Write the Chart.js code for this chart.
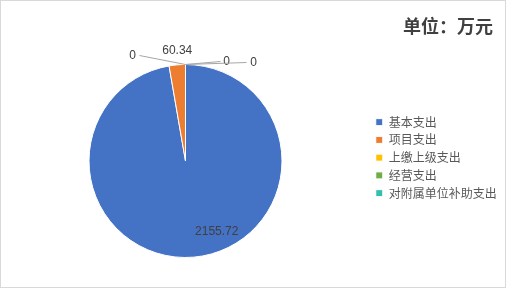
<!DOCTYPE html>
<html>
<head>
<meta charset="utf-8">
<script src="https://cdn.jsdelivr.net/npm/chart.js@4"></script>
<style>
  body { margin: 0; background: #fff; }
  #box { position: absolute; left: 0; top: 0; width: 504px; height: 286px; border: 1px solid #d9d9d9; }
</style>
</head>
<body>
<div id="box"><canvas id="pie-chart"></canvas></div>
<script>
const categories = ["基本支出", "项目支出", "上缴上级支出", "经营支出", "对附属单位补助支出"];
const values = [2155.72, 60.34, 0, 0, 0];
const colors = ["#4472c4", "#ed7d31", "#ffc000", "#70ad47", "#33bfae"];
const unitTitle = "单位：万元";

// where each value label sits, relative to its slice
const labelPlace = [
  { inside: true, r: 0.8, turn: -19 },
  { dx: 0, dy: -14 },
  { dx: -53, dy: -9, line: 7 },
  { dx: 41, dy: -3, line: -6 },
  { dx: 68, dy: -2, line: -7 }
];

const pieLabels = {
  id: "pieLabels",
  afterDatasetsDraw(chart) {
    const ctx = chart.ctx;
    const meta = chart.getDatasetMeta(0);
    ctx.save();
    ctx.font = '12px "Liberation Sans"';
    ctx.textAlign = "center";
    ctx.textBaseline = "middle";
    meta.data.forEach(function(arc, i) {
      const p = arc.getProps(["x", "y", "startAngle", "endAngle", "outerRadius"], true);
      const mid = (p.startAngle + p.endAngle) / 2;
      const place = labelPlace[i];
      let lx, ly;
      if (place.inside) {
        const a = mid + place.turn * Math.PI / 180;
        lx = p.x + Math.cos(a) * p.outerRadius * place.r;
        ly = p.y + Math.sin(a) * p.outerRadius * place.r;
      } else {
        const ex = p.x + Math.cos(mid) * p.outerRadius;
        const ey = p.y + Math.sin(mid) * p.outerRadius;
        lx = ex + place.dx;
        ly = ey + place.dy;
        if (place.line) {
          ctx.strokeStyle = "#a6a6a6";
          ctx.lineWidth = 1;
          ctx.beginPath();
          ctx.moveTo(ex, ey);
          ctx.lineTo(lx + place.line, ly);
          ctx.stroke();
        }
      }
      ctx.fillStyle = "#404040";
      ctx.fillText(String(values[i]), lx, ly);
    });
    // unit title, top right
    ctx.font = 'bold 18px "Noto Sans CJK SC"';
    ctx.textAlign = "right";
    ctx.fillStyle = "#404040";
    ctx.fillText(unitTitle, 492, 25);
    ctx.restore();
  }
};

new Chart(document.getElementById("pie-chart"), {
  type: "pie",
  data: {
    labels: categories,
    datasets: [{
      data: values,
      backgroundColor: colors,
      borderColor: "#ffffff",
      borderWidth: 1
    }]
  },
  plugins: [pieLabels],
  options: {
    responsive: true,
    maintainAspectRatio: false,
    animation: false,
    events: [],
    layout: {
      padding: { left: 0, right: 0, top: 63, bottom: 29 }
    },
    plugins: {
      tooltip: { enabled: false },
      legend: {
        position: "right",
        align: "start",
        maxWidth: 135,
        // empty title only used as a spacer above the items
        title: { display: true, text: "", padding: { top: 32, bottom: 0 } },
        labels: {
          boxWidth: 7,
          boxHeight: 7,
          padding: 5.75,
          color: "#595959",
          font: { size: 12, family: '"Noto Sans CJK SC"' }
        }
      }
    }
  }
});
</script>
</body>
</html>
